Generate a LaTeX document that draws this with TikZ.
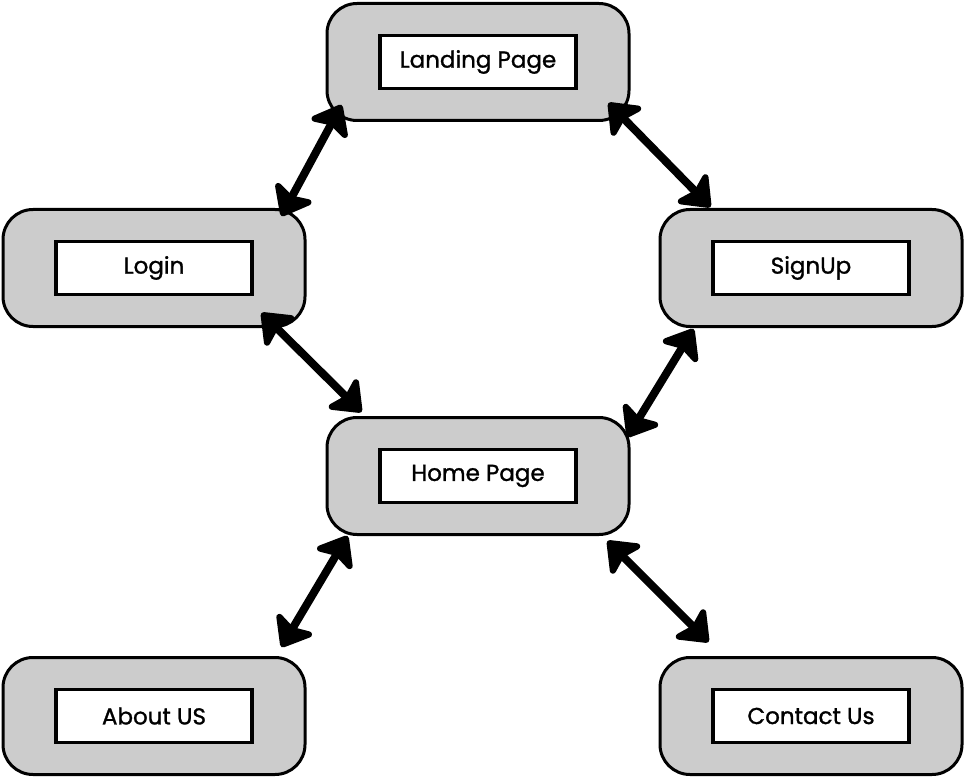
\documentclass[tikz,border=0pt]{standalone}
\usepackage{fontspec}
\setmainfont{Poppins}
\newfontfamily\pagefont{Poppins}[FakeBold=1.2]
\usetikzlibrary{arrows.meta}

\tikzstyle{pagebox} = [draw,line width=3pt,fill=black!20,rounded corners=30pt,minimum width=302pt,minimum height=117pt]
\tikzstyle{pagename} = [draw,line width=3.5pt,fill=white,minimum width=196pt,minimum height=53pt,font=\pagefont\fontsize{23}{26}\selectfont]
\tikzstyle{link} = [line width=8pt,{Stealth[length=32pt,width=50pt,inset=7pt,round]}-{Stealth[length=32pt,width=50pt,inset=7pt,round]}]

\begin{document}
\begin{tikzpicture}[x=1pt,y=1pt]
	\useasboundingbox (0,0) rectangle (966,-778);

	\node[pagebox] (landing) at (478,-62) {};
	\node[pagebox] (login) at (154,-268) {};
	\node[pagebox] (signup) at (811,-268) {};
	\node[pagebox] (home) at (478,-476) {};
	\node[pagebox] (about) at (154,-716) {};
	\node[pagebox] (contact) at (811,-716) {};

	\node[pagename] (landingtxt) at (landing) {Landing Page};
	\node[pagename] (logintxt) at (login) {Login};
	\node[pagename] (signuptxt) at (signup) {SignUp};
	\node[pagename] (hometxt) at (home) {Home Page};
	\node[pagename] (abouttxt) at (about) {About US};
	\node[pagename] (contacttxt) at (contact) {Contact Us};

	\draw[link] ([shift={(16,17)}]landing.south west) -- ([shift={(-25,-8)}]login.north east);
	\draw[link] ([shift={(-22,19)}]landing.south east) -- ([shift={(52,1)}]signup.north west);
	\draw[link] ([shift={(-45,15)}]login.south east) -- ([shift={(36,4)}]home.north west);
	\draw[link] ([shift={(35,-1)}]signup.south west) -- ([shift={(-3,-21)}]home.north east);
	\draw[link] ([shift={(22,0)}]home.south west) -- ([shift={(-25,9)}]about.north east);
	\draw[link] ([shift={(-23,-5)}]home.south east) -- ([shift={(50,14)}]contact.north west);
\end{tikzpicture}
\end{document}
